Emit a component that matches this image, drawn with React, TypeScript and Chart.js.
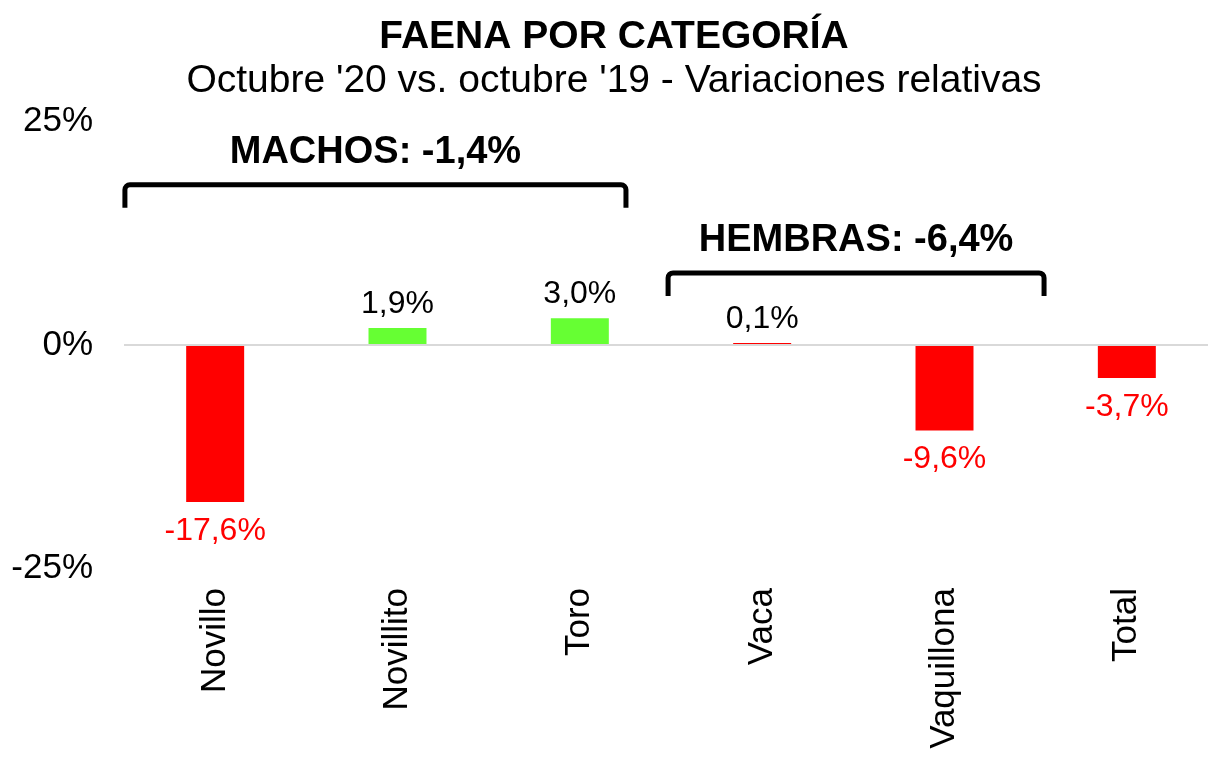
import React, { useEffect, useRef } from 'react';
import { Chart, registerables } from 'chart.js';

Chart.register(...registerables);

// ---- data ----
const categories = ['Novillo', 'Novillito', 'Toro', 'Vaca', 'Vaquillona', 'Total'];
const variations = [-17.6, 1.9, 3.0, 0.1, -9.6, -3.7];
const barColors = ['#FF0000', '#66FF33', '#66FF33', '#FF0000', '#FF0000', '#FF0000'];
const yTickValues = [-25, 0, 25];

// group brackets (in category-index / value units)
const groupLabels = ['MACHOS: -1,4%', 'HEMBRAS: -6,4%'];
const groupFrom = [-0.495, 2.484];
const groupTo = [2.253, 4.546];
const groupLevel = [17.94, 8.07];

const FONT = '"Liberation Sans", Arial, Helvetica, sans-serif';
const fmt = (v: number) => v.toFixed(1).replace('.', ',') + '%';

const valueLabels = {
  id: 'valueLabels',
  afterDatasetsDraw(chart: any) {
    const ctx = chart.ctx;
    const meta = chart.getDatasetMeta(0);
    ctx.save();
    ctx.font = `32px ${FONT}`;
    ctx.textAlign = 'center';
    ctx.textBaseline = 'middle';
    meta.data.forEach((el: any, i: number) => {
      const v = variations[i];
      ctx.fillStyle = v >= 0 ? '#000000' : '#FF0000';
      const y = v >= 0 ? el.y - 24 : el.y + 29;
      ctx.fillText(fmt(v), el.x, y);
    });
    ctx.restore();
  },
};

const brackets = {
  id: 'brackets',
  afterDatasetsDraw(chart: any) {
    const ctx = chart.ctx;
    const xs = chart.scales.x;
    const ys = chart.scales.y;
    const step = xs.getPixelForValue(1) - xs.getPixelForValue(0);
    const x0 = xs.getPixelForValue(0);
    ctx.save();
    groupLabels.forEach((label, g) => {
      const l = x0 + groupFrom[g] * step;
      const r = x0 + groupTo[g] * step;
      const t = ys.getPixelForValue(groupLevel[g]);
      const leg = 23;
      const rad = 5;
      ctx.strokeStyle = '#000000';
      ctx.lineWidth = 5;
      ctx.lineJoin = 'round';
      ctx.beginPath();
      ctx.moveTo(l, t + leg);
      ctx.lineTo(l, t + rad);
      ctx.arcTo(l, t, l + rad, t, rad);
      ctx.lineTo(r - rad, t);
      ctx.arcTo(r, t, r, t + rad, rad);
      ctx.lineTo(r, t + leg);
      ctx.stroke();
      ctx.fillStyle = '#000000';
      ctx.font = `bold 38px ${FONT}`;
      ctx.textAlign = 'center';
      ctx.textBaseline = 'middle';
      ctx.fillText(label, (l + r) / 2, t - 32);
    });
    ctx.restore();
  },
};

export default function App() {
  const ref = useRef<HTMLCanvasElement | null>(null);

  useEffect(() => {
    if (!ref.current) return;
    const chart = new Chart(ref.current, {
      type: 'bar',
      data: {
        labels: categories,
        datasets: [
          {
            data: variations,
            backgroundColor: barColors,
            borderWidth: 0,
            minBarLength: 2,
            categoryPercentage: 1,
            barPercentage: 0.318,
          },
        ],
      },
      options: {
        animation: false,
        responsive: false,
        maintainAspectRatio: false,
        layout: { padding: { left: 10, right: 0, top: 0, bottom: 0 } },
        plugins: {
          legend: { display: false },
          tooltip: { enabled: false },
          title: {
            display: true,
            text: 'FAENA POR CATEGORÍA',
            color: '#000000',
            font: { family: FONT, size: 39, weight: 'bold', lineHeight: 1.1 },
            padding: { top: 16, bottom: 0 },
          },
          subtitle: {
            display: true,
            text: "Octubre '20 vs. octubre '19 - Variaciones relativas",
            color: '#000000',
            font: { family: FONT, size: 39, lineHeight: 1.1 },
            padding: { top: 1, bottom: 19 },
          },
        },
        scales: {
          x: {
            grid: { display: false, drawTicks: false },
            border: { display: false },
            afterFit: (s: any) => {
              s.height = 190;
            },
            ticks: {
              color: '#000000',
              font: { family: FONT, size: 35 },
              padding: 20,
              minRotation: 90,
              maxRotation: 90,
              autoSkip: false,
            },
          },
          y: {
            min: -25,
            max: 25,
            afterFit: (s: any) => {
              s.width = 114;
            },
            afterBuildTicks: (s: any) => {
              s.ticks = yTickValues.map((v) => ({ value: v }));
            },
            border: { display: false },
            grid: {
              drawTicks: false,
              lineWidth: 2,
              color: (c: any) => (c.tick && c.tick.value === 0 ? '#D9D9D9' : 'rgba(0,0,0,0)'),
            },
            ticks: {
              color: '#000000',
              font: { family: FONT, size: 35 },
              padding: 31,
              callback: (v: any) => `${v}%`,
            },
          },
        },
      },
      plugins: [valueLabels, brackets],
    });
    return () => chart.destroy();
  }, []);

  return (
    <div
      style={{
        position: 'absolute',
        left: 0,
        top: 0,
        width: 1208,
        height: 758,
        overflow: 'hidden',
        background: '#ffffff',
      }}
    >
      <canvas ref={ref} width={1218} height={758} style={{ display: 'block', width: 1218, height: 758 }} />
    </div>
  );
}
